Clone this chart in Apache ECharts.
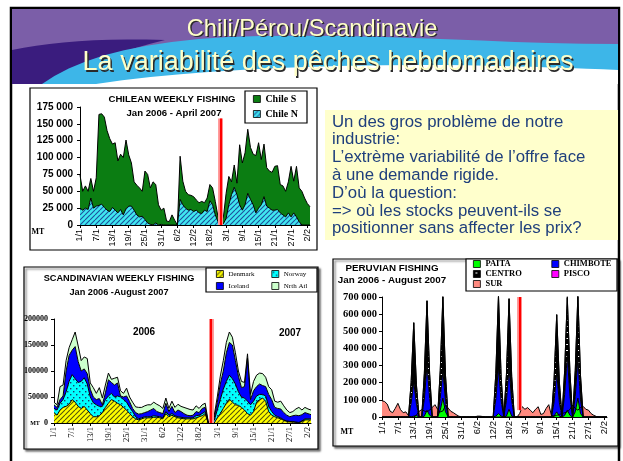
<!DOCTYPE html>
<html>
<head>
<meta charset="utf-8">
<title>Chili/Pérou/Scandinavie</title>
<script src="https://cdn.jsdelivr.net/npm/echarts@6/dist/echarts.min.js"></script>
<style>
  html, body { margin: 0; padding: 0; background: #fff; }
  #slide { width: 623px; height: 461px; }
</style>
</head>
<body>
<div id="slide"></div>
<script>
// tick labels shown every 6 weeks on all three charts
const weekTicks = ['1/1', '7/1', '13/1', '19/1', '25/1', '31/1', '6/2', '12/2', '18/2', '3/1', '9/1', '15/1', '21/1', '27/1', '2/2'];
const weeks = Array.from({ length: 86 }, (_, i) => 'S' + (i + 1));
const splitWeek = 52; // red line between the two seasons

// Chile (MT)
const chileN = [25000,22000,25000,23000,40000,25000,28000,29000,31000,26000, 22000,20000,26000,22000,18000,23000,15000,24000,28000,28000, 22000,15000,12000,13000,8000,3000,1000,0,3000,0, 1000,0,0,0,0,0,0,38000,30000,25000, 22000,23000,20000,22000,18000,17000,22000,20000,36000,30000, 15000,5000,0,2000,10000,30000,45000,56000,45000,30000, 22000,30000,47000,38000,30000,18000,25000,30000,42000,28000, 25000,22000,22000,23000,18000,15000,12000,18000,12000,18000, 12000,5000,0,0,0,0];
const chileS = [49000,28000,33000,27000,29000,25000,42000,135000,134000,134000, 118000,108000,94000,100000,77000,82000,85000,102000,76000,64000, 42000,44000,43000,37000,72000,72000,54000,64000,57000,30000, 21000,25000,6000,5000,15000,7000,0,64000,35000,25000, 23000,21000,22000,15000,15000,18000,11000,20000,24000,25000, 20000,7000,4000,10000,37000,42000,19000,33000,17000,89000, 70000,77000,95000,77000,75000,85000,97000,67000,78000,57000, 55000,56000,65000,65000,42000,43000,38000,46000,75000,47000, 75000,50000,50000,40000,32000,27000];
const chileLineTop = 158000;

// Scandinavia (MT)
const denmark = [20000,15000,25000,30000,32000,36000,45000,40000,32000,28000, 32000,25000,18000,12000,12000,14000,20000,30000,38000,45000, 42000,38000,35000,30000,25000,18000,12000,8000,6000,8000, 10000,10000,10000,11000,11000,10000,8000,18000,12000,15000, 12000,10000,9000,8000,8000,8000,8000,10000,12000,14000, 18000,0,0,0,10000,18000,28000,38000,46000,40000, 35000,34000,30000,25000,18000,15000,22000,40000,45000,48000, 42000,22000,15000,12000,10000,8000,5000,3000,2000,2000, 1000,0,3000,6000,6000,6000];
const norway = [8000,10000,13000,15000,28000,44000,48000,45000,46000,52000, 55000,50000,32000,27000,23000,18000,12000,15000,14000,12000, 8000,14000,15000,15000,15000,12000,10000,4000,2000,2000, 2000,2000,2000,3000,2000,2000,2000,4000,3000,3000, 2000,2000,2000,2000,2000,2000,2000,4000,3000,4000, 4000,0,0,5000,15000,27000,37000,42000,46000,45000, 40000,26000,20000,23000,24000,20000,20000,12000,10000,7000, 10000,10000,7000,3000,2000,2000,1000,1000,1000,1000, 1000,1000,1000,2000,2000,2000];
const iceland = [7000,5000,7000,7000,40000,50000,47000,62000,40000,20000, 17000,20000,15000,11000,10000,15000,3000,13000,31000,21000, 23000,25000,2000,5000,12000,11000,6000,8000,9000,8000, 8000,10000,13000,14000,9000,8000,8000,16000,7000,14000, 6000,13000,11000,8000,5000,4000,5000,8000,5000,10000, 8000,2000,0,5000,15000,30000,35000,55000,63000,65000, 45000,30000,18000,22000,83000,10000,20000,18000,20000,17000, 18000,23000,23000,15000,16000,17000,14000,11000,9000,11000, 13000,13000,12000,12000,10000,8000];
const nrthAtl = [5000,5000,25000,21000,20000,15000,20000,28000,30000,20000, 23000,29000,12000,18000,12000,21000,13000,15000,13000,6000, 13000,11000,10000,7000,15000,9000,12000,11000,13000,12000, 13000,13000,10000,12000,14000,13000,10000,10000,6000,10000, 10000,11000,10000,12000,13000,12000,10000,11000,8000,7000, 8000,1000,0,5000,10000,15000,20000,20000,20000,15000, 15000,10000,12000,8000,8000,10000,18000,22000,21000,23000, 18000,15000,19000,12000,12000,15000,13000,10000,8000,8000, 12000,16000,9000,10000,9000,9000];
const scandLineTop = 200000;

// Peru (MT)
const sur = [95000,90000,75000,35000,25000,50000,80000,43000,25000,30000, 8000,0,0,10000,33000,43000,35000,30000,40000,56000, 72000,45000,30000,35000,68000,52000,33000,25000,14000,5000, 0,0,0,0,0,0,5000,5000,3000,0, 0,0,3000,0,0,0,0,0,0,0, 0,0,20000,60000,45000,55000,40000,25000,45000,60000, 15000,20000,50000,72000,10000,5000,10000,15000,20000,25000, 30000,45000,70000,50000,40000,55000,62000,45000,40000,20000, 10000,3000,0,0,0,0];
const paita = [0,0,0,0,0,0,0,0,0,0, 0,0,5000,8000,0,0,5000,40000,10000,0, 0,0,40000,110000,30000,0,0,0,0,0, 0,0,0,0,0,0,0,0,0,0, 0,0,0,5000,20000,5000,0,5000,45000,5000, 0,0,0,0,0,0,0,0,0,0, 0,0,0,0,0,5000,30000,5000,0,10000, 40000,10000,0,30000,110000,20000,0,0,0,0, 0,0,0,0,0,0];
const chimbote = [0,0,0,0,0,0,0,0,0,0, 0,80000,200000,70000,0,0,100000,265000,100000,0, 0,0,70000,160000,60000,0,0,0,0,0, 0,0,0,0,0,0,0,0,0,0, 0,0,0,100000,270000,90000,0,90000,240000,90000, 0,0,0,0,0,0,0,0,0,0, 0,0,0,0,0,80000,230000,80000,0,120000, 320000,110000,0,90000,230000,80000,0,0,0,0, 0,0,0,0,0,0];
const centro = [0,0,0,0,0,0,0,0,0,0, 0,120000,345000,110000,0,0,150000,373000,140000,0, 0,0,160000,430000,150000,0,0,0,0,0, 0,0,0,0,0,0,0,0,0,0, 0,0,0,150000,420000,140000,0,150000,405000,140000, 0,0,0,0,0,0,0,0,0,0, 0,0,0,0,0,130000,337000,120000,0,140000, 335000,140000,0,150000,370000,140000,0,0,0,0, 0,0,0,0,0,0];
const pisco = [0,0,0,0,0,0,0,0,0,0, 0,0,0,0,0,0,0,0,0,0, 0,0,0,8000,0,0,0,0,0,0, 0,0,0,0,0,0,0,0,0,0, 0,0,0,0,0,0,0,0,0,0, 0,0,0,0,0,0,0,0,0,0, 0,0,0,0,0,0,0,0,0,0, 8000,0,0,0,0,0,0,0,0,0, 0,0,0,0,0,0];
const peruLineFrom = 40000, peruLineTop = 700000;

const textLines = [
  'Un des gros problème de notre',
  'industrie:',
  'L’extrème variabilité de l’offre face',
  'à une demande rigide.',
  'D’où la question:',
  '=> où les stocks peuvent-ils se',
  'positionner sans affecter les prix?'
];

// fill patterns
function pattern(bg, size, draw) {
  const c = document.createElement('canvas');
  c.width = c.height = size;
  const g = c.getContext('2d');
  g.fillStyle = bg;
  g.fillRect(0, 0, size, size);
  draw(g, size);
  return { image: c, repeat: 'repeat' };
}
const stripes = (col, lw) => (g, s) => {
  g.strokeStyle = col; g.lineWidth = lw; g.beginPath();
  for (const o of [-s, 0, s]) { g.moveTo(o, s); g.lineTo(o + s, 0); }
  g.stroke();
};
const hatchCyan = pattern('#40E8F0', 5, stripes('#1d4f9c', 1.1));
const hatchYellow = pattern('#FFFF00', 5, stripes('#55550a', 1.1));
const dotCyan = pattern('#00FFFF', 6, (g) => { g.fillStyle = '#1a3a6a'; g.fillRect(1, 1, 1.4, 1.4); g.fillRect(4, 4, 1.4, 1.4); });
const centroFill = pattern('#000', 6, (g) => { g.fillStyle = '#fff'; g.fillRect(2, 2, 2, 1); });

// header wave outlines: cubic segments sampled into polygons
function wave(start, curves, close) {
  const pts = [start];
  let p0 = start;
  curves.forEach(([c1, c2, p3]) => {
    for (let t = 0.1; t <= 1.0001; t += 0.1) {
      const u = 1 - t;
      pts.push([
        u * u * u * p0[0] + 3 * u * u * t * c1[0] + 3 * u * t * t * c2[0] + t * t * t * p3[0],
        u * u * u * p0[1] + 3 * u * u * t * c1[1] + 3 * u * t * t * c2[1] + t * t * t * p3[1]
      ]);
    }
    p0 = p3;
  });
  return pts.concat(close);
}

const spaced = v => String(v).replace(/\B(?=(\d{3})+(?!\d))/g, ' ');
const plain = v => String(v);
const ARIAL = 'Arial, "Liberation Sans", sans-serif';
const TIMES = '"Times New Roman", "Liberation Serif", serif';

function xAxis(grid, font, size) {
  return {
    type: 'category', gridIndex: grid, data: weeks, boundaryGap: false,
    axisLine: { lineStyle: { color: '#000', width: 1 } },
    axisTick: { interval: 5, length: 3, lineStyle: { color: '#000' } },
    axisLabel: {
      interval: 5, rotate: 90, margin: 4, color: '#000', fontFamily: font, fontSize: size,
      formatter: (v, i) => weekTicks[i / 6]
    },
    splitLine: { show: false }
  };
}
function yAxis(grid, max, step, label) {
  return {
    type: 'value', gridIndex: grid, min: 0, max: max, interval: step,
    axisLine: { show: true, lineStyle: { color: '#000', width: 1 } },
    axisTick: { show: true, length: 3, lineStyle: { color: '#000' } },
    splitLine: { show: false },
    axisLabel: Object.assign({ color: '#000', fontWeight: 'bold' }, label)
  };
}
function area(name, grid, stack, data, fill, extra) {
  return Object.assign({
    name: name, type: 'line', xAxisIndex: grid, yAxisIndex: grid, stack: stack, data: data,
    symbol: 'none', silent: true, lineStyle: { color: '#000', width: 1 },
    areaStyle: { color: fill, opacity: 1 }, emphasis: { disabled: true }
  }, extra || {});
}
function redLine(from, to) {
  return {
    silent: true, symbol: ['none', 'none'], label: { show: false }, animation: false,
    data: [
      [{ coord: [splitWeek, from], lineStyle: { color: '#FF9C9C', width: 5, type: 'solid' } }, { coord: [splitWeek, to] }],
      [{ coord: [splitWeek, from], lineStyle: { color: '#FF0000', width: 2.2, type: 'solid' } }, { coord: [splitWeek, to] }]
    ]
  };
}
function txt(x, y, text, font, extra) {
  return { type: 'text', x: x, y: y, silent: true, z: 10,
    style: Object.assign({ text: text, font: font, fill: '#000', align: 'center', verticalAlign: 'middle', textAlign: 'center', textVerticalAlign: 'middle' }, extra || {}) };
}
function box(x, y, w, h, z, extra) {
  return { type: 'rect', silent: true, z: z, shape: { x: x, y: y, width: w, height: h },
    style: Object.assign({ fill: '#fff', stroke: '#000', lineWidth: 1.2 }, extra || {}) };
}
function poly(points, fill, z) {
  return { type: 'polygon', silent: true, z: z, shape: { points: points }, style: { fill: fill } };
}

const legendText = (size, width, weight, lh) => ({ color: '#000', fontFamily: TIMES, fontSize: size, fontWeight: weight, width: width, lineHeight: lh });
const shadow = { shadowBlur: 2, shadowOffsetX: 2, shadowOffsetY: 2, shadowColor: 'rgba(0,0,0,0.55)' };

const graphics = [
  // slide frame and header waves
  box(11, 8, 608, 460, -40, { lineWidth: 2.5 }),
  { type: 'rect', silent: true, z: -39, shape: { x: 12, y: 9, width: 606, height: 75 }, style: { fill: '#7B5EA8' } },
  poly(wave([12, 50], [[[50, 42], [100, 38], [165, 40]], [[115, 52], [75, 68], [58, 84]]], [[12, 84]]), '#3A1C7E', -38),
  poly(wave([42, 84], [[[80, 56], [150, 38], [260, 36]], [[400, 34], [500, 44], [618, 44]]], [[618, 84]]), '#3DB6E8', -37),
  poly(wave([96, 84], [[[180, 71], [300, 65], [420, 65]], [[500, 65], [570, 68], [618, 70]]], [[618, 84]]), '#fff', -36),
  txt(313.5, 30.5, 'Chili/Pérou/Scandinavie', '23.6px ' + ARIAL, { fill: '#2a2a2a' }),
  txt(312, 29, 'Chili/Pérou/Scandinavie', '23.6px ' + ARIAL, { fill: '#FFFFC8' }),
  txt(329.5, 64.5, 'La variabilité des pêches hebdomadaires', '27px ' + ARIAL, { fill: '#2a2a2a' }),
  txt(328, 63, 'La variabilité des pêches hebdomadaires', '27px ' + ARIAL, { fill: '#FFFFC8' }),

  // chart frames
  box(30, 88, 287, 162, -20),
  box(24, 267, 294, 182, -20, shadow),
  box(333, 259, 285, 187, -20, shadow),

  // text box
  { type: 'rect', silent: true, z: -20, shape: { x: 325, y: 110, width: 293, height: 130 }, style: { fill: '#FFFFCC' } },

  // legend frames
  box(245, 91, 62, 32, 3),
  box(206, 268, 111, 24, 3),
  box(466, 259, 151, 32, 3),

  // chart titles and notes
  txt(172, 99, 'CHILEAN WEEKLY FISHING', 'bold 9.6px ' + ARIAL),
  txt(174, 113, 'Jan 2006 - April 2007', 'bold 9.6px ' + ARIAL),
  txt(119, 278, 'SCANDINAVIAN WEEKLY FISHING', 'bold 9.2px ' + ARIAL),
  txt(119, 292, 'Jan 2006 -August 2007', 'bold 9.2px ' + ARIAL),
  txt(392, 268, 'PERUVIAN FISHING', 'bold 9.8px ' + ARIAL),
  txt(392, 280, 'Jan 2006 - August 2007', 'bold 9.8px ' + ARIAL),
  txt(144, 332, '2006', 'bold 10px ' + ARIAL),
  txt(290, 333, '2007', 'bold 10px ' + ARIAL),
  txt(38, 232, 'MT', 'bold 8px ' + TIMES),
  txt(35, 423, 'MT', 'bold 6px ' + TIMES),
  txt(347, 432, 'MT', 'bold 8px ' + TIMES)
];
textLines.forEach((line, i) => {
  graphics.push(txt(332, 122 + i * 17.8, line, '16.8px ' + ARIAL, { fill: '#1F3F7C', align: 'left', textAlign: 'left' }));
});

const option = {
  animation: false,
  graphic: { elements: graphics },
  grid: [
    { left: 80, top: 107, width: 230, height: 118 },
    { left: 54, top: 319, width: 257, height: 104 },
    { left: 382, top: 297, width: 225, height: 120 }
  ],
  xAxis: [xAxis(0, ARIAL, 9), xAxis(1, TIMES, 8.5), xAxis(2, ARIAL, 9.5)],
  yAxis: [
    yAxis(0, 175000, 25000, { fontFamily: ARIAL, fontSize: 10, margin: 7, formatter: spaced }),
    yAxis(1, 200000, 50000, { fontFamily: TIMES, fontSize: 8, margin: 6, formatter: plain }),
    yAxis(2, 700000, 100000, { fontFamily: TIMES, fontSize: 10.5, margin: 5, formatter: spaced })
  ],
  legend: [
    {
      left: 253, top: 94, padding: 0, orient: 'vertical', icon: 'rect', itemWidth: 7, itemHeight: 7, itemGap: 5,
      selectedMode: false, z: 5, itemStyle: { borderColor: '#000', borderWidth: 0.8 },
      textStyle: legendText(10, null, 'bold', 10),
      data: [{ name: 'Chile S', itemStyle: { color: '#0B7D12' } }, { name: 'Chile N', itemStyle: { color: hatchCyan } }]
    },
    {
      left: 216, top: 268, width: 112, padding: 0, orient: 'horizontal', icon: 'rect', itemWidth: 7, itemHeight: 7, itemGap: 0,
      selectedMode: false, z: 5, itemStyle: { borderColor: '#000', borderWidth: 0.8 },
      textStyle: legendText(7, 43, 'normal', 12),
      data: [
        { name: 'Denmark', itemStyle: { color: hatchYellow } }, { name: 'Norway', itemStyle: { color: dotCyan } },
        { name: 'Iceland', itemStyle: { color: '#0000FF' } }, { name: 'Nrth Atl', itemStyle: { color: '#CCFFCC' } }
      ]
    },
    {
      left: 473, top: 259, width: 165, padding: 0, orient: 'horizontal', icon: 'rect', itemWidth: 7, itemHeight: 7, itemGap: 0,
      selectedMode: false, z: 5, itemStyle: { borderColor: '#000', borderWidth: 0.8 },
      textStyle: legendText(8.5, 66, 'bold', 10),
      data: [
        { name: 'PAITA', itemStyle: { color: '#00FF00' } }, { name: 'CHIMBOTE', itemStyle: { color: '#0000FF' } },
        { name: 'CENTRO', itemStyle: { color: centroFill } }, { name: 'PISCO', itemStyle: { color: '#FF00FF' } },
        { name: 'SUR', itemStyle: { color: '#FF8A80' } }
      ]
    }
  ],
  series: [
    area('Chile N', 0, 'chile', chileN, hatchCyan),
    area('Chile S', 0, 'chile', chileS, '#0B7D12', { markLine: redLine(0, chileLineTop) }),

    area('Denmark', 1, 'scand', denmark, hatchYellow),
    area('Norway', 1, 'scand', norway, dotCyan),
    area('Iceland', 1, 'scand', iceland, '#0000FF'),
    area('Nrth Atl', 1, 'scand', nrthAtl, '#CCFFCC', { markLine: redLine(0, scandLineTop) }),

    area('SUR', 2, null, sur, '#FF8A80', { markLine: redLine(peruLineFrom, peruLineTop) }),
    area('PAITA', 2, 'peru', paita, '#00FF00'),
    area('CHIMBOTE', 2, 'peru', chimbote, '#0000FF'),
    area('CENTRO', 2, 'peru', centro, centroFill),
    area('PISCO', 2, 'peru', pisco, '#FF00FF')
  ]
};

const chart = echarts.init(document.getElementById('slide'));
chart.setOption(option);
</script>
</body>
</html>
